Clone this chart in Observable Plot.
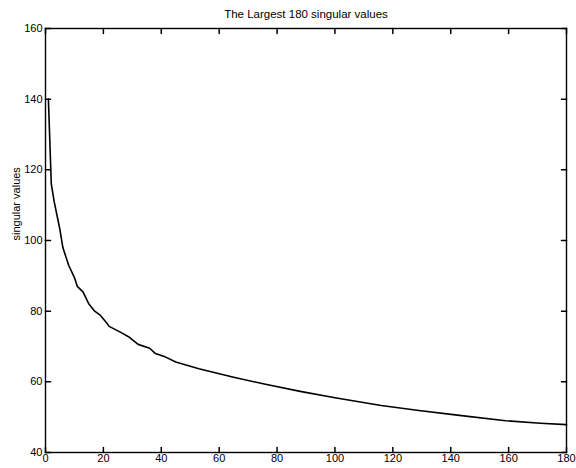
<!DOCTYPE html>
<html>
<head>
<meta charset="utf-8">
<script src="https://cdn.jsdelivr.net/npm/d3@7"></script>
<script src="https://cdn.jsdelivr.net/npm/@observablehq/plot@0.6"></script>
<style>
  html, body { margin: 0; padding: 0; background: #fff; }
  svg { display: block; }
</style>
</head>
<body>
<div id="chart"></div>
<script>
const titleText = "The Largest 180 singular values";
const yLabel = "singular values";
const xTicks = [0, 20, 40, 60, 80, 100, 120, 140, 160, 180];
const yTicks = [40, 60, 80, 100, 120, 140, 160];
const index = [1, 2, 3, 4, 5, 6, 8, 10, 11, 13, 15, 17, 19, 21, 22, 26, 29, 32, 36, 38, 41, 45, 53, 65, 76, 88, 100, 116, 129, 143, 159, 171, 180];
const values = [140, 116, 111, 107, 103, 98, 93, 89.5, 87, 85.4, 82, 80, 78.8, 76.8, 75.7, 74, 72.6, 70.6, 69.5, 68, 67.2, 65.6, 63.7, 61.3, 59.3, 57.3, 55.5, 53.3, 51.9, 50.5, 49, 48.3, 47.9];

const data = index.map((k, i) => ({k, v: values[i]}));
const font = "'Liberation Sans', Arial, Helvetica, sans-serif";

// straight tick shape for vectors (no arrow head)
const tickShape = {draw(context, l) { context.moveTo(0, 0); context.lineTo(0, -l); }};
const tickOpts = {length: 5, anchor: "start", shape: tickShape, stroke: "#000", strokeWidth: 1.5};

const chart = Plot.plot({
  width: 576,
  height: 468,
  marginLeft: 45,
  marginRight: 10,
  marginTop: 28,
  marginBottom: 16,
  style: {fontFamily: font, fontSize: "11px", color: "#000", background: "#fff"},
  x: {domain: [0, 180]},
  y: {domain: [40, 160]},
  marks: [
    Plot.frame({stroke: "#000", strokeWidth: 1.4}),
    // inward ticks on all four sides
    Plot.vector(xTicks, {x: d => d, y: 40, rotate: 0, ...tickOpts}),
    Plot.vector(xTicks, {x: d => d, y: 160, rotate: 180, ...tickOpts}),
    Plot.vector(yTicks, {x: 0, y: d => d, rotate: 90, ...tickOpts}),
    Plot.vector(yTicks, {x: 180, y: d => d, rotate: 270, ...tickOpts}),
    Plot.axisX({ticks: xTicks, tickSize: 0, tickPadding: 2, label: null, fontSize: 11}),
    Plot.axisY({ticks: yTicks, tickSize: 0, tickPadding: 3, label: null, fontSize: 11}),
    Plot.line(data, {x: "k", y: "v", stroke: "#000", strokeWidth: 1.6}),
    Plot.text([titleText], {text: d => d, frameAnchor: "top", dy: -19, fontSize: 11.5}),
    Plot.text([yLabel], {text: d => d, frameAnchor: "left", dx: -29, rotate: -90, fontSize: 11})
  ]
});
document.getElementById("chart").appendChild(chart);
</script>
</body>
</html>
